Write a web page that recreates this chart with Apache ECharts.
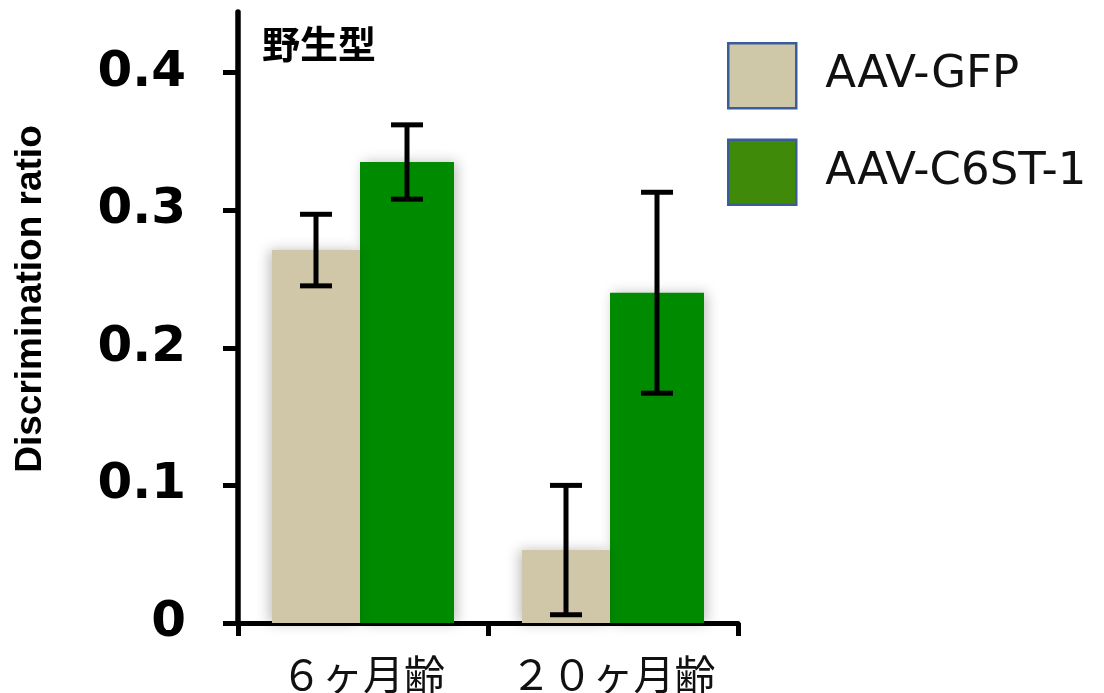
<!DOCTYPE html>
<html>
<head>
<meta charset="utf-8">
<style>
  html, body { margin: 0; padding: 0; background: #fff; }
  #chart { width: 1104px; height: 693px; }
</style>
<script src="https://cdn.jsdelivr.net/npm/echarts@6/dist/echarts.min.js"></script>
</head>
<body>
<div id="chart"></div>
<script>
// Age groups on the x axis
const categories = ['６ヶ月齢', '２０ヶ月齢'];
// Series names
const seriesNames = ['AAV-GFP', 'AAV-C6ST-1'];
// Mean discrimination ratio per age group
const gfpMeans = [0.271, 0.053];
const c6stMeans = [0.335, 0.240];
// Error (± half-length of the error bar)
const gfpErrors = [0.026, 0.047];
const c6stErrors = [0.027, 0.073];
// Y axis tick values
const yTicks = [0, 0.1, 0.2, 0.3, 0.4];

const BAR_W_GFP = 88;
const BAR_W_C6ST = 94;
const GROUP_W = BAR_W_GFP + BAR_W_C6ST;
// centre offsets of each bar inside its category band (bars touch, barGap 0)
const OFF_GFP = -GROUP_W / 2 + BAR_W_GFP / 2;
const OFF_C6ST = -GROUP_W / 2 + BAR_W_GFP + BAR_W_C6ST / 2;

function errorData(means, errs) {
  return means.map((m, i) => [i, m, errs[i]]);
}

function errorRenderer(offset) {
  return function (params, api) {
    const idx = api.value(0);
    const mean = api.value(1);
    const err = api.value(2);
    const hi = api.coord([idx, mean + err]);
    const lo = api.coord([idx, mean - err]);
    const x = hi[0] + offset;
    const cap = 16;
    const style = { stroke: '#000', lineWidth: 5 };
    return {
      type: 'group',
      children: [
        { type: 'line', shape: { x1: x, y1: hi[1], x2: x, y2: lo[1] }, style },
        { type: 'line', shape: { x1: x - cap, y1: hi[1], x2: x + cap, y2: hi[1] }, style },
        { type: 'line', shape: { x1: x - cap, y1: lo[1], x2: x + cap, y2: lo[1] }, style }
      ]
    };
  };
}

const chart = echarts.init(document.getElementById('chart'));
chart.setOption({
  backgroundColor: '#ffffff',
  animation: false,
  grid: { left: 238, right: 366, top: 12, bottom: 70, outerBoundsMode: 'none' },
  legend: {
    orient: 'vertical',
    left: 722,
    top: 37,
    itemWidth: 68,
    itemHeight: 65,
    itemGap: 29,
    selectedMode: false,
    textStyle: {
      fontFamily: 'DejaVu Sans',
      fontSize: 45,
      color: '#111',
      padding: [0, 0, 0, 24]
    },
    data: [
      { name: seriesNames[0], icon: 'rect',
        itemStyle: { color: '#CFC8A8', borderColor: '#3B5C9C', borderWidth: 2.5 } },
      { name: seriesNames[1], icon: 'rect',
        itemStyle: { color: '#3F8A08', borderColor: '#3B5C9C', borderWidth: 2.5 } }
    ]
  },
  xAxis: {
    type: 'category',
    data: categories,
    boundaryGap: true,
    axisLine: { show: true, lineStyle: { color: '#000', width: 5 } },
    axisTick: { show: true, alignWithLabel: false, length: 13, lineStyle: { color: '#000', width: 5 } },
    axisLabel: {
      interval: 0,
      margin: 31,
      fontSize: 41,
      fontFamily: '"Noto Sans CJK JP"',
      fontWeight: 'normal',
      color: '#111'
    },
    splitLine: { show: false }
  },
  yAxis: {
    type: 'value',
    min: 0,
    max: 0.444,
    axisLine: { show: true, lineStyle: { color: '#000', width: 5.5 } },
    axisTick: {
      show: true, length: 15, customValues: yTicks,
      lineStyle: { color: '#000', width: 5 }
    },
    axisLabel: {
      customValues: yTicks,
      margin: 52,
      fontSize: 50,
      fontWeight: 'bold',
      fontFamily: '"DejaVu Sans"',
      color: '#000',
      formatter: v => (v === 0 ? '0' : v.toFixed(1))
    },
    splitLine: { show: false }
  },
  graphic: [
    {
      type: 'text',
      x: 31, y: 299,
      rotation: Math.PI / 2,
      style: {
        text: 'Discrimination ratio',
        fontFamily: '"Liberation Sans", Arial',
        fontWeight: 'bold',
        fontSize: 37,
        fill: '#000',
        align: 'center',
        verticalAlign: 'middle'
      }
    },
    {
      type: 'text',
      x: 262, y: 44,
      style: {
        text: '野生型',
        fontFamily: '"Noto Sans CJK JP"',
        fontWeight: 'bold',
        fontSize: 38,
        fill: '#000',
        align: 'left',
        verticalAlign: 'middle'
      }
    }
  ],
  series: [
    {
      name: seriesNames[0],
      type: 'bar',
      data: gfpMeans,
      barWidth: BAR_W_GFP,
      barGap: '0%',
      z: 3,
      itemStyle: {
        color: '#CFC7A8',
        shadowBlur: 12,
        shadowColor: 'rgba(0,0,0,0.25)',
        shadowOffsetX: -3
      }
    },
    {
      name: seriesNames[1],
      type: 'bar',
      data: c6stMeans,
      barWidth: BAR_W_C6ST,
      barGap: '0%',
      z: 2,
      itemStyle: {
        color: '#008A00',
        shadowBlur: 12,
        shadowColor: 'rgba(0,0,0,0.25)',
        shadowOffsetX: 3
      }
    },
    {
      type: 'custom',
      name: 'gfp-error',
      data: errorData(gfpMeans, gfpErrors),
      renderItem: errorRenderer(OFF_GFP),
      z: 10,
      silent: true
    },
    {
      type: 'custom',
      name: 'c6st-error',
      data: errorData(c6stMeans, c6stErrors),
      renderItem: errorRenderer(OFF_C6ST),
      z: 10,
      silent: true
    }
  ]
});
</script>
</body>
</html>
